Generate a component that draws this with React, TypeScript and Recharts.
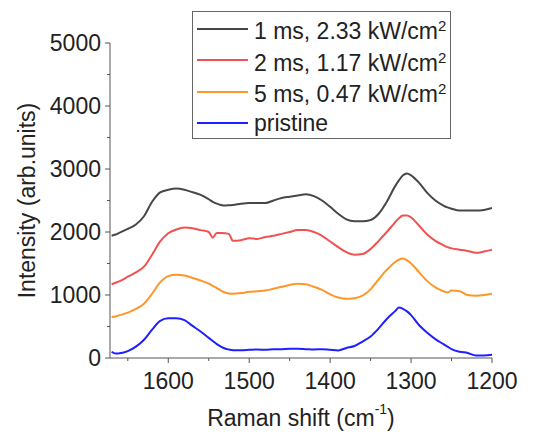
import React from 'react';
import {LineChart, Line, XAxis, YAxis, Legend} from 'recharts';

// Raman spectra, x axis runs high -> low

const shift = [1670, 1665, 1660, 1650, 1640, 1630, 1620, 1610, 1600, 1590, 1580, 1570, 1560, 1550, 1545, 1540, 1535, 1530, 1525, 1520, 1510, 1500, 1490, 1480, 1470, 1460, 1450, 1440, 1430, 1420, 1410, 1400, 1390, 1380, 1370, 1360, 1350, 1340, 1330, 1320, 1315, 1310, 1305, 1300, 1290, 1280, 1270, 1260, 1255, 1250, 1240, 1230, 1220, 1210, 1200];

const ms1 = [1940, 1960, 1990, 2050, 2120, 2250, 2480, 2630, 2670, 2690, 2670, 2630, 2590, 2520, 2480, 2450, 2430, 2420, 2425, 2430, 2450, 2460, 2460, 2460, 2500, 2540, 2560, 2580, 2600, 2570, 2500, 2400, 2290, 2200, 2170, 2170, 2190, 2290, 2480, 2720, 2820, 2900, 2930, 2900, 2780, 2620, 2500, 2420, 2390, 2370, 2340, 2340, 2340, 2350, 2380];

const ms2 = [1170, 1195, 1220, 1290, 1360, 1450, 1640, 1850, 1980, 2040, 2070, 2060, 2030, 2000, 1910, 1985, 1985, 1980, 1965, 1860, 1870, 1900, 1890, 1920, 1940, 1970, 2000, 2030, 2030, 2000, 1940, 1850, 1760, 1680, 1640, 1650, 1730, 1860, 2000, 2150, 2220, 2260, 2260, 2230, 2100, 1960, 1860, 1790, 1760, 1740, 1720, 1700, 1670, 1690, 1720];

const ms5 = [650, 660, 680, 720, 780, 860, 1020, 1200, 1300, 1320, 1310, 1270, 1230, 1180, 1145, 1110, 1070, 1040, 1025, 1020, 1030, 1050, 1060, 1070, 1100, 1130, 1160, 1180, 1170, 1130, 1080, 1010, 960, 940, 950, 990, 1090, 1250, 1400, 1520, 1560, 1580, 1550, 1500, 1360, 1220, 1120, 1060, 1040, 1070, 1060, 1000, 990, 1000, 1020];

const pristine = [100, 70, 75, 110, 180, 290, 450, 590, 630, 630, 600, 510, 420, 320, 270, 220, 180, 150, 135, 125, 125, 130, 135, 130, 140, 140, 145, 145, 140, 135, 140, 130, 120, 160, 190, 260, 340, 470, 620, 740, 800, 780, 740, 680, 520, 400, 300, 220, 180, 140, 100, 80, 40, 40, 50];

const xTicks = [1650, 1600, 1550, 1500, 1450, 1400, 1350, 1300, 1250, 1200];
const yTicks = [0, 500, 1000, 1500, 2000, 2500, 3000, 3500, 4000, 4500, 5000];

const series = [
    {key: 'ms1', name: '1 ms, 2.33 kW/cm', color: '#474747'},
    {key: 'ms2', name: '2 ms, 1.17 kW/cm', color: '#f05252'},
    {key: 'ms5', name: '5 ms, 0.47 kW/cm', color: '#ff9628'},
    {key: 'pristine', name: 'pristine', color: '#1f1fff'},
];

const data = shift.map((s, i) => ({shift: s, ms1: ms1[i], ms2: ms2[i], ms5: ms5[i], pristine: pristine[i]}));

const FONT = '"Liberation Sans", Arial, sans-serif';
const TXT = '#222';
const AX = '#555';
const FS = 23;

const W = 525, H = 424;
const PLOT_LEFT = 102;
const PLOT_BOTTOM = 350;

const YTick = (props: any) => {
    const {y, payload} = props;
    const major = payload.value % 1000 === 0;
    return (
        <g>
            <line x1={PLOT_LEFT} x2={PLOT_LEFT - (major ? 5 : 3)} y1={y} y2={y} stroke={AX} strokeWidth={1} />
            {major && (
                <text x={PLOT_LEFT - 9} y={y} textAnchor="end" dominantBaseline="central"
                      fontSize={FS} fontFamily={FONT} fill={TXT}>{payload.value}</text>
            )}
        </g>
    );
};

const XTick = (props: any) => {
    const {x, payload} = props;
    const major = payload.value % 100 === 0;
    return (
        <g>
            <line x1={x} x2={x} y1={PLOT_BOTTOM} y2={PLOT_BOTTOM + (major ? 5 : 3)} stroke={AX} strokeWidth={1} />
            {major && (
                <text x={x} y={PLOT_BOTTOM + 23} textAnchor="middle" dominantBaseline="central"
                      fontSize={FS} fontFamily={FONT} fill={TXT}>{payload.value}</text>
            )}
        </g>
    );
};

const XLabel = (props: any) => {
    const vb = props.viewBox;
    return (
        <text x={vb.x + vb.width / 2} y={vb.y + 60} textAnchor="middle" dominantBaseline="central"
              fontSize={FS} fontFamily={FONT} fill={TXT}>
            Raman shift (cm<tspan fontSize={14} dy={-9}>-1</tspan><tspan dy={9}>)</tspan>
        </text>
    );
};

const YLabel = (props: any) => {
    const vb = props.viewBox;
    const cx = 19;
    const cy = vb.y + vb.height / 2;
    return (
        <text x={cx} y={cy} textAnchor="middle" dominantBaseline="central" transform={`rotate(-90, ${cx}, ${cy})`}
              fontSize={FS} fontFamily={FONT} fill={TXT}>Intensity (arb.units)</text>
    );
};

const LegendBox = () => (
    <div style={{width: 259, height: 128, border: '1px solid #666', boxSizing: 'border-box', background: '#fff',
        fontFamily: FONT, fontSize: FS, color: TXT, paddingTop: 1}}>
        {series.map((s) => (
            <div key={s.key} style={{display: 'flex', alignItems: 'center', height: 31.5}}>
                <div style={{width: 51, height: 2, background: s.color, marginLeft: 4, marginRight: 6}} />
                <span style={{whiteSpace: 'nowrap', lineHeight: '23px'}}>
                    {s.name}{s.key !== 'pristine' && <sup style={{fontSize: 15, verticalAlign: 8}}>2</sup>}
                </span>
            </div>
        ))}
    </div>
);

const App = () => {
    return (
        <LineChart width={W} height={H} data={data} margin={{top: 35, right: 41, left: 0, bottom: 0}}>
            <XAxis dataKey="shift" type="number" domain={[1200, 1672]} reversed allowDataOverflow
                   ticks={xTicks} interval={0} tick={<XTick />} tickLine={false} height={74}
                   axisLine={{stroke: AX, strokeWidth: 1}} label={<XLabel />} />
            <YAxis type="number" domain={[0, 5000]} ticks={yTicks} interval={0} tick={<YTick />} tickLine={false}
                   width={102} axisLine={{stroke: AX, strokeWidth: 1}} label={<YLabel />} />
            <Legend layout="horizontal" verticalAlign="middle" align="center" content={<LegendBox />}
                    wrapperStyle={{left: 184, top: 3, width: 259, height: 128}} />
            {series.map((s) => (
                <Line key={s.key} type="monotone" dataKey={s.key} name={s.name} stroke={s.color} strokeWidth={2}
                      dot={false} isAnimationActive={false} />
            ))}
        </LineChart>
    );
};

export default App;
